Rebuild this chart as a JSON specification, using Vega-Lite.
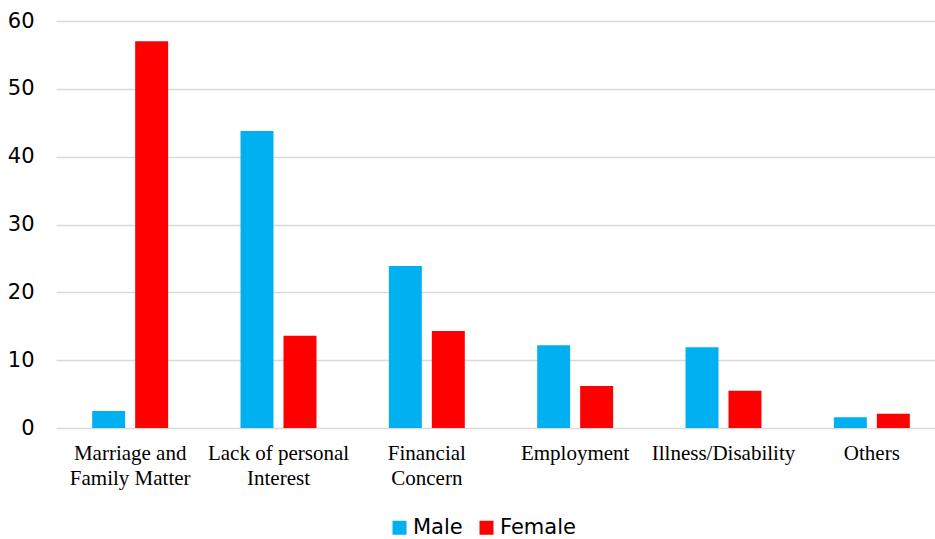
{
  "$schema": "https://vega.github.io/schema/vega-lite/v6.json",
  "autosize": "none",
  "width": 879,
  "height": 407,
  "padding": {"left": 56, "top": 21, "right": 0, "bottom": 111},
  "background": "white",
  "data": {
    "values": [
      {"reason": "Marriage and|Family Matter", "gender": "Male", "value": 2.5},
      {"reason": "Marriage and|Family Matter", "gender": "Female", "value": 57},
      {"reason": "Lack of personal|Interest", "gender": "Male", "value": 43.8},
      {"reason": "Lack of personal|Interest", "gender": "Female", "value": 13.6},
      {"reason": "Financial|Concern", "gender": "Male", "value": 23.9},
      {"reason": "Financial|Concern", "gender": "Female", "value": 14.3},
      {"reason": "Employment", "gender": "Male", "value": 12.2},
      {"reason": "Employment", "gender": "Female", "value": 6.2},
      {"reason": "Illness/Disability", "gender": "Male", "value": 11.9},
      {"reason": "Illness/Disability", "gender": "Female", "value": 5.5},
      {"reason": "Others", "gender": "Male", "value": 1.6},
      {"reason": "Others", "gender": "Female", "value": 2.1}
    ]
  },
  "mark": {"type": "bar"},
  "encoding": {
    "x": {
      "field": "reason",
      "type": "nominal",
      "sort": null,
      "scale": {"paddingInner": 0.488, "paddingOuter": 0.244, "range": [0, 890]},
      "axis": {
        "title": null,
        "labelAngle": 0,
        "labelExpr": "split(datum.label, '|')",
        "labelFont": "Liberation Serif",
        "labelFontSize": 21,
        "labelColor": "#000000",
        "labelLineHeight": 25,
        "labelPadding": 14,
        "labelLimit": 0,
        "ticks": false,
        "domain": false
      }
    },
    "xOffset": {
      "field": "gender",
      "type": "nominal",
      "scale": {"domain": ["Male", "Female"], "paddingInner": 0.233}
    },
    "y": {
      "field": "value",
      "type": "quantitative",
      "scale": {"domain": [0, 60]},
      "axis": {
        "title": null,
        "values": [0, 10, 20, 30, 40, 50, 60],
        "labelFont": "DejaVu Sans",
        "labelFontSize": 21,
        "labelColor": "#000000",
        "labelPadding": 22,
        "ticks": false,
        "domain": false,
        "gridColor": "#d9d9d9",
        "gridWidth": 1.5
      }
    },
    "color": {
      "field": "gender",
      "type": "nominal",
      "scale": {"domain": ["Male", "Female"], "range": ["#00B0F0", "#FF0000"]},
      "legend": {
        "title": null,
        "orient": "none",
        "direction": "horizontal",
        "legendX": 333,
        "legendY": 496,
        "symbolType": "square",
        "symbolSize": 196,
        "symbolStrokeWidth": 0,
        "symbolOpacity": 1,
        "labelFont": "DejaVu Sans",
        "labelFontSize": 21,
        "labelColor": "#000000",
        "labelOffset": 3,
        "columnPadding": 13
      }
    }
  },
  "config": {"view": {"stroke": null}}
}
